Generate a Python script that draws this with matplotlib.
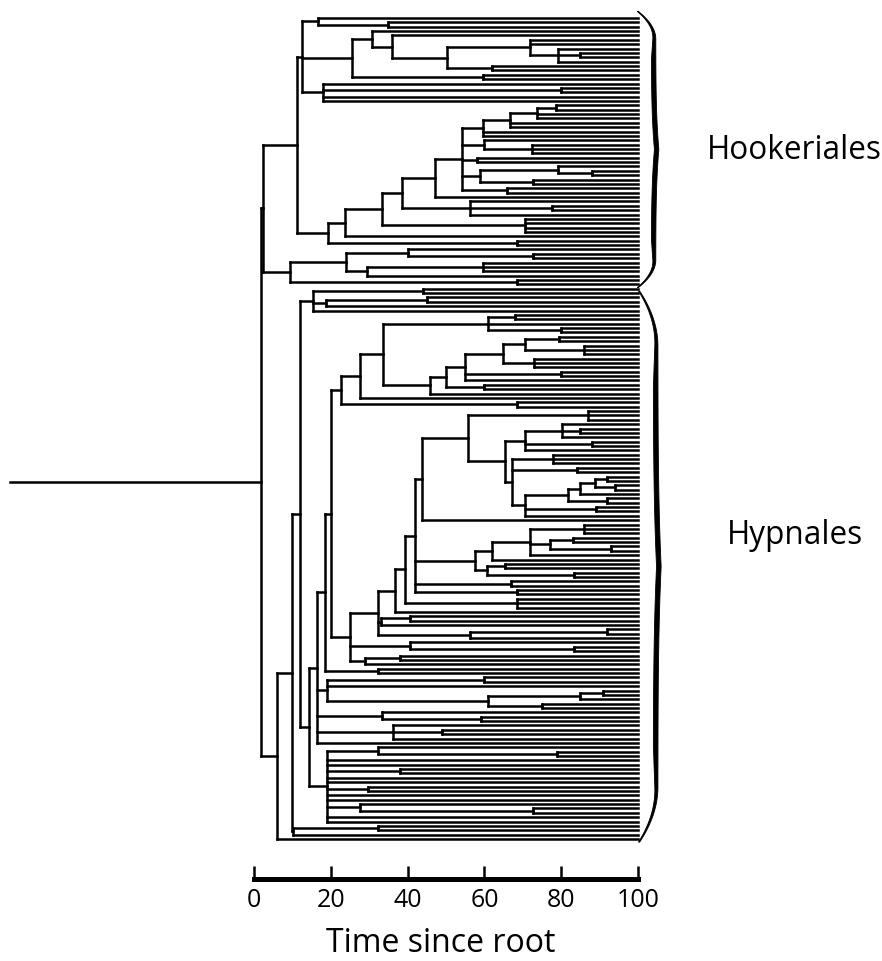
import numpy as np
import matplotlib
matplotlib.use("Agg")
import matplotlib.pyplot as plt
from matplotlib.collections import LineCollection

# tree pieces: "*" is a tip (time 100), "(...)t" is a node at time t since root
# Hookeriales
h_n447 = "((*,*,(*,(*,*)85,*)79.2)71.9,(*,*)62)50.3"
h_n302 = "((*,(*,*)34.9)16.7,((*,(*,%s)35.9)30.7,(*,*)59.6)25.5,(*,(*,*)80,*,*)18)12.5" % h_n447
h_n462 = "(((((*,*)78.6,*,*)73.7,*,*)66.7,*,*)59.6,(*,(*,*,*)72.4)60,(*,*)58," \
         "((*,(*,*)88)79.2,(*,*)72.7)58.9,(*,*)66)54.2"
h_n328 = "(((((%s,*)47.1,(*,(*,*)77.6,*)56.3)38.5,(*,*,*,*)70.6)33.3,*)23.7,(*,*)68.5)19.3" % h_n462
h_n290 = "(((*,(*,*)72.7)40.1,((*,*,*)59.6,*)29.4)24,(*,*)68.5)9.4"
hookeriales = "((%s,%s)11.2,%s)2.3" % (h_n302, h_n328, h_n290)

# Hypnales
hyp_e = "((*,*)44,((*,*)45,*)18.8,*)15.4"
ladder = "((((((*,*)79.4,(*,*,*)86)70.6,(*,*,*)73)64.8,(*,*)80,*)55,(*,*)60)50,*)45.8"
hyp_s = "(((((*,*)68,*,(*,*)80)61,%s)33.6,*)27.6,(*,*)68.5)22.7" % ladder

n595 = "((*,*)92,(*,*)94)88.8"
n568 = "((%s,*)84.9,(*,*)92)81.7" % n595
n512 = "((*,*,*)77.9,(*,*)84,(%s,(*,*)89,*)70.6)67.2" % n568
n525 = "((*,(*,*)85,*)80.2,(*,*)88,*)70.6"
n468 = "((*,*,*)87,(%s,%s)65.4)55.7" % (n525, n512)
n530 = "((*,*,*)86,((*,*)83,(*,*)93)77,*)72"
n475 = "((%s,*)62,((*,*)65.4,(*,*)83.3)60.7)57.6" % n530
n415 = "((%s,*)43.8,%s,(*,*)67,(*,*)68.5)41.9" % (n468, n475)
n378 = "(((%s,(*,*,*)68.5)39.3,*)36.7,((*,*)40.6,*)33,((*,*)92,*)56.3)32.3" % n415
hyp_t = "(%s,(*,(*,*)83.3)40.6,((*,*)38,*)28.9)25" % n378
hyp_n = "(((%s,%s)20.1,(*,*)32.3)18.5,((*,*)60,*,(((*,*)91,*)85,(*,*)75)61)19,(*,(*,*)59)33.3," \
        "(*,(*,*)49,*)36.2,*)16.4" % (hyp_s, hyp_t)
hyp_p = "((*,(*,*)79)32.3,*,*,(*,*)38,*,*,(*,*)29.7,*,*,(*,(*,*)72.7)27.6,*,*)19"
hypnales = "(((%s,(%s,%s)14.3)12,((*,*)32.3,*)10.2)9.9,*)6" % (hyp_e, hyp_n, hyp_p)

root_time = 1.8
stem_start = -63.5
time_ticks = [0, 20, 40, 60, 80, 100]
clade_names = ["Hookeriales", "Hypnales"]


def parse(s, i=0):
    if s[i] == "*":
        return {"t": 100.0, "kids": []}, i + 1
    kids = []
    i += 1
    while True:
        k, i = parse(s, i)
        kids.append(k)
        if s[i] == ",":
            i += 1
        else:
            i += 1
            break
    j = i
    while j < len(s) and (s[j].isdigit() or s[j] == "."):
        j += 1
    return {"t": float(s[i:j]), "kids": kids}, j


tree, _ = parse("(%s,%s)%s" % (hookeriales, hypnales, root_time))

tips = []


def layout(node):
    if not node["kids"]:
        node["y"] = len(tips)
        tips.append(node)
        return
    for k in node["kids"]:
        layout(k)
    node["y"] = (node["kids"][0]["y"] + node["kids"][-1]["y"]) / 2


layout(tree)
n_tips = len(tips)

segs = []


def collect(node):
    if not node["kids"]:
        return
    segs.append([(node["t"], node["kids"][0]["y"]), (node["t"], node["kids"][-1]["y"])])
    for k in node["kids"]:
        segs.append([(node["t"], k["y"]), (k["t"], k["y"])])
        collect(k)


collect(tree)
segs.append([(stem_start, tree["y"]), (tree["t"], tree["y"])])


def count(node):
    if not node["kids"]:
        return 1
    return sum(count(k) for k in node["kids"])


hook_n = count(tree["kids"][0])

# pixel frame: tips from y=19 to y=840, 0..100 from x=254 to x=638
W, H = 882, 962
top, bot = 19, 840
sp = (bot - top) / (n_tips - 1)
fig = plt.figure(figsize=(W / 100, H / 100), dpi=100)
ax = fig.add_axes([0, 0, 1, 1])
ax.set_xlim(-254 / 3.84, (W - 254) / 3.84)
ax.set_ylim((H - top) / sp, -top / sp)
ax.axis("off")

ax.add_collection(LineCollection(segs, colors="black", linewidths=1.8, capstyle="projecting"))


def brace(y0, y1, x0, w, th):
    # tapered curly bracket: thin curled ends, thick middle with a slight point
    v = np.linspace(0, 1, 300)
    s = 1 - np.abs(2 * v - 1)
    bend = 1 - (1 - np.minimum(s / 0.2, 1)) ** 2
    outer = x0 + w * (0.85 * bend + 0.15 * s ** 4)
    thick = th * (0.25 + 0.75 * np.minimum(s / 0.35, 1))
    yy = y0 + (y1 - y0) * v
    ax.fill_betweenx(yy, outer - thick, outer, color="black", lw=0.6)


brace(-1.6, hook_n - 0.4, 100.0, 5.3, 1.15)
brace(hook_n + 0.4, n_tips - 0.4, 100.3, 5.6, 1.2)

font = ["Open Sans", "DejaVu Sans"]
hook_mid = (hook_n - 2) / 2
hyp_mid = hook_mid + (530 - 145) / sp
ax.text(140.8, hook_mid, clade_names[0], fontsize=22.7, family=font, ha="center", va="center")
ax.text(140.8, hyp_mid, clade_names[1], fontsize=22.7, family=font, ha="center", va="center")

# scale bar
sc = fig.add_axes([0, 1 - 880 / H, 1, 0.02])
sc.set_xlim(ax.get_xlim())
sc.patch.set_visible(False)
for s in ["left", "right", "top"]:
    sc.spines[s].set_visible(False)
sc.spines["bottom"].set_bounds(0, 100)
sc.spines["bottom"].set_linewidth(3.6)
sc.set_yticks([])
sc.set_xticks(time_ticks)
sc.set_xticklabels([str(t) for t in time_ticks], fontsize=18, family=font)
sc.tick_params(axis="x", direction="in", length=9.5, width=1.8, pad=6)
sc.set_xlabel("Time since root", fontsize=23, family=font, labelpad=10)

fig.savefig("out.png", dpi=100)
